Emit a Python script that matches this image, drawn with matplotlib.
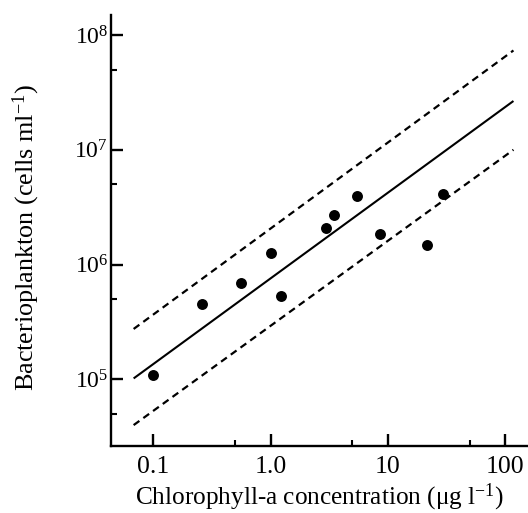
import matplotlib
matplotlib.use("Agg")
import matplotlib.pyplot as plt
from matplotlib.ticker import FixedLocator, FixedFormatter

plt.rcParams['font.family'] = ['Liberation Serif', 'DejaVu Serif']
plt.rcParams['mathtext.fontset'] = 'custom'
plt.rcParams['mathtext.rm'] = 'Liberation Serif'
plt.rcParams['mathtext.it'] = 'Liberation Serif:italic'

# data points (chlorophyll-a, bacterioplankton)
chl = [0.10, 0.26, 0.565, 1.0, 1.22, 2.98, 3.49, 5.49, 8.58, 21.8, 29.8]
bact = [1.1e5, 4.5e5, 6.9e5, 1.25e6, 5.3e5, 2.08e6, 2.7e6, 3.95e6, 1.86e6, 1.48e6, 4.08e6]

# regression line and confidence bounds (endpoints)
line_x = [0.068, 118]
center_y = [1.02e5, 2.66e7]
upper_y = [2.75e5, 7.33e7]
lower_y = [4.0e4, 1.0e7]

x_major = [0.1, 1.0, 10, 100]
x_major_labels = ['0.1', '1.0', '10', '100']
x_minor = [0.5, 5, 50]
y_major = [1e5, 1e6, 1e7, 1e8]
y_major_labels = [r'$10^{5}$', r'$10^{6}$', r'$10^{7}$', r'$10^{8}$']
y_minor = [5e4, 5e5, 5e6, 5e7]

fig = plt.figure(figsize=(5.28, 5.13), dpi=100)
ax = fig.add_axes([0.210, 0.1306, 0.79, 0.840])
ax.set_xscale('log')
ax.set_yscale('log')
ax.set_xlim(0.0435, 157)
ax.set_ylim(2.63e4, 1.49e8)

ax.plot(line_x, center_y, color='black', lw=1.5, solid_capstyle='butt')
ax.plot(line_x, upper_y, color='black', lw=1.6, dashes=(3.2, 2.2))
ax.plot(line_x, lower_y, color='black', lw=1.6, dashes=(3.2, 2.2))
ax.scatter(chl, bact, s=62, color='black', zorder=3, linewidths=0)

for s in ['top', 'right']:
    ax.spines[s].set_visible(False)
for s in ['left', 'bottom']:
    ax.spines[s].set_linewidth(1.7)

ax.xaxis.set_major_locator(FixedLocator(x_major))
ax.xaxis.set_major_formatter(FixedFormatter(x_major_labels))
ax.xaxis.set_minor_locator(FixedLocator(x_minor))
ax.xaxis.set_minor_formatter(FixedFormatter([]))
ax.yaxis.set_major_locator(FixedLocator(y_major))
ax.yaxis.set_major_formatter(FixedFormatter(y_major_labels))
ax.yaxis.set_minor_locator(FixedLocator(y_minor))
ax.yaxis.set_minor_formatter(FixedFormatter([]))

ax.tick_params(which='major', direction='in', length=8.5, width=1.7)
ax.tick_params(which='minor', direction='in', length=4.5, width=1.5)
ax.tick_params(axis='x', which='major', labelsize=18.5, pad=7)
ax.tick_params(axis='y', which='major', labelsize=17, pad=2)

ax.set_xlabel('Chlorophyll-a concentration (μg l$^{-1}$)', fontsize=18.2, labelpad=3)
ax.set_ylabel('Bacterioplankton (cells ml$^{-1}$)', fontsize=18.8)
ax.yaxis.set_label_coords(-0.165, 0.483)

fig.savefig('out.png', dpi=100)
